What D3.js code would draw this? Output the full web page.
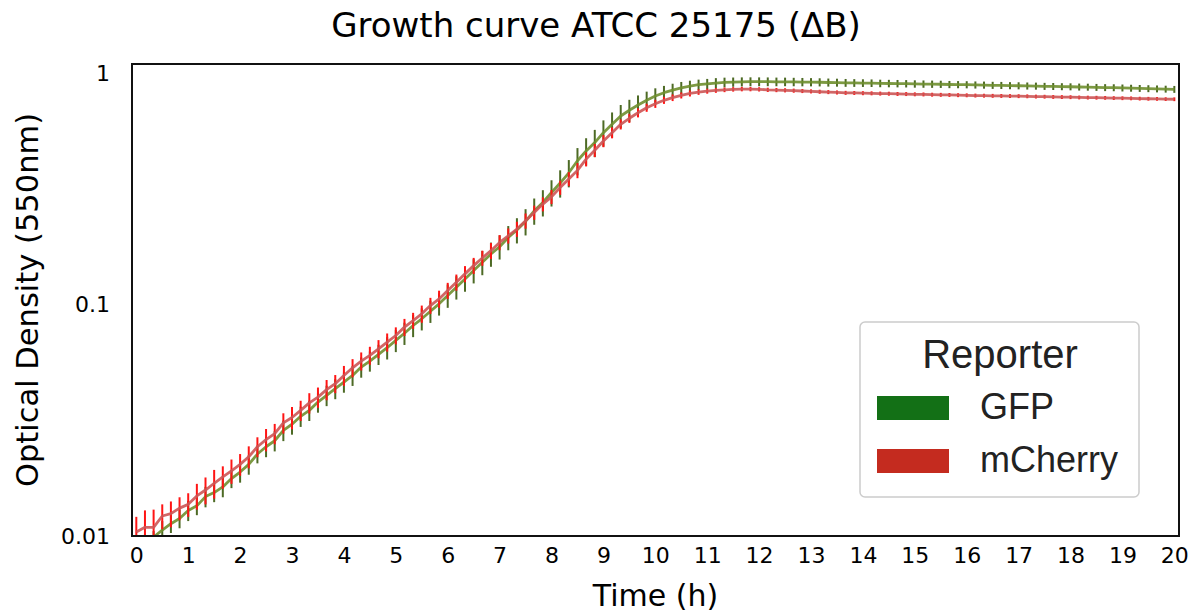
<!DOCTYPE html>
<html>
<head>
<meta charset="utf-8">
<script src="https://cdn.jsdelivr.net/npm/d3@7"></script>
<style>
  body { margin: 0; background: #fff; }
  text { font-family: "DejaVu Sans", sans-serif; fill: #000; }
  .legend text { font-family: "Liberation Sans", Arial, sans-serif; fill: #222; }
</style>
</head>
<body>
<svg class="chart" width="1198" height="615"></svg>
<script>
// sampling every 10 minutes, 0 to 20 h
const minutes = d3.range(0, 1201, 10)

const gfpMean = [
  0.0093, 0.0096, 0.0099, 0.0106, 0.0113, 0.0119, 0.0129, 0.0135, 0.0148, 0.0154,
  0.0163, 0.0177, 0.0189, 0.0204, 0.0226, 0.0243, 0.0258, 0.0286, 0.0304, 0.0329,
  0.0349, 0.0379, 0.0405, 0.0433, 0.0462, 0.0494, 0.0537, 0.0570, 0.0609, 0.0651,
  0.0700, 0.0752, 0.0812, 0.0868, 0.0936, 0.1007, 0.1094, 0.1188, 0.1291, 0.1402,
  0.1522, 0.1654, 0.1778, 0.1950, 0.2099, 0.2286, 0.2542, 0.2761, 0.3048, 0.335,
  0.371, 0.418, 0.461, 0.501, 0.553, 0.601, 0.653, 0.691, 0.728, 0.763,
  0.796, 0.823, 0.845, 0.864, 0.879, 0.891, 0.899, 0.906, 0.912, 0.915,
  0.917, 0.918, 0.918, 0.918, 0.917, 0.917, 0.916, 0.915, 0.914, 0.913,
  0.911, 0.910, 0.908, 0.907, 0.906, 0.905, 0.903, 0.902, 0.901, 0.900,
  0.898, 0.897, 0.896, 0.895, 0.893, 0.892, 0.891, 0.889, 0.888, 0.886,
  0.885, 0.883, 0.882, 0.880, 0.879, 0.877, 0.876, 0.874, 0.873, 0.871,
  0.870, 0.868, 0.866, 0.865, 0.863, 0.861, 0.859, 0.857, 0.855, 0.853,
  0.851
]
const gfpErr = [
  0.0006, 0.0006, 0.0006, 0.0010, 0.0010, 0.0011, 0.0013, 0.0012, 0.0015, 0.0014,
  0.0016, 0.0016, 0.0019, 0.0020, 0.0020, 0.0024, 0.0026, 0.0029, 0.0030, 0.0033,
  0.0035, 0.0038, 0.0041, 0.0043, 0.0046, 0.0049, 0.0054, 0.0057, 0.0061, 0.0072,
  0.0077, 0.0083, 0.0089, 0.0095, 0.0103, 0.0111, 0.0126, 0.0137, 0.0155, 0.0168,
  0.0183, 0.0198, 0.0213, 0.0234, 0.0262, 0.0297, 0.0330, 0.0359, 0.0396, 0.0452,
  0.0501, 0.0564, 0.0622, 0.0676, 0.0719, 0.0751, 0.0751, 0.0760, 0.0728, 0.0687,
  0.0637, 0.0576, 0.0549, 0.0518, 0.0483, 0.0463, 0.0450, 0.0453, 0.0438, 0.0421,
  0.0415, 0.0410, 0.0405, 0.0400, 0.0395, 0.0390, 0.0385, 0.0380, 0.0375, 0.0370,
  0.0365, 0.0360, 0.0355, 0.0350, 0.0346, 0.0342, 0.0338, 0.0335, 0.0332, 0.0330,
  0.0328, 0.0326, 0.0324, 0.0322, 0.0320, 0.0318, 0.0316, 0.0315, 0.0314, 0.0313,
  0.0312, 0.0311, 0.0310, 0.0309, 0.0308, 0.0307, 0.0306, 0.0305, 0.0304, 0.0303,
  0.0302, 0.0301, 0.0300, 0.0299, 0.0298, 0.0297, 0.0296, 0.0295, 0.0294, 0.0293,
  0.0292
]

const mcherryMean = [
  0.0104, 0.0109, 0.0109, 0.0122, 0.0125, 0.0132, 0.0137, 0.0149, 0.0158, 0.0169,
  0.0180, 0.0191, 0.0204, 0.0220, 0.0243, 0.0261, 0.0277, 0.0308, 0.0325, 0.0349,
  0.0376, 0.0398, 0.0429, 0.0455, 0.0494, 0.0533, 0.0570, 0.0603, 0.0644, 0.0688,
  0.0735, 0.0799, 0.0853, 0.0912, 0.0990, 0.1058, 0.1149, 0.1248, 0.1357, 0.1473,
  0.1590, 0.1709, 0.1856, 0.1983, 0.2120, 0.2301, 0.2500, 0.2717, 0.2921, 0.3203,
  0.349, 0.380, 0.425, 0.464, 0.509, 0.553, 0.601, 0.638, 0.674, 0.709,
  0.737, 0.763, 0.783, 0.801, 0.817, 0.828, 0.836, 0.842, 0.847, 0.851,
  0.853, 0.853, 0.851, 0.847, 0.845, 0.843, 0.840, 0.837, 0.834, 0.831,
  0.828, 0.825, 0.822, 0.821, 0.819, 0.818, 0.816, 0.815, 0.813, 0.812,
  0.810, 0.809, 0.807, 0.806, 0.805, 0.803, 0.802, 0.800, 0.799, 0.798,
  0.797, 0.796, 0.795, 0.794, 0.792, 0.791, 0.789, 0.788, 0.787, 0.785,
  0.784, 0.783, 0.782, 0.780, 0.779, 0.778, 0.776, 0.775, 0.774, 0.772,
  0.771
]
const mcherryErr = [
  0.0017, 0.0020, 0.0021, 0.0015, 0.0016, 0.0015, 0.0016, 0.0019, 0.0021, 0.0024,
  0.0020, 0.0023, 0.0022, 0.0024, 0.0024, 0.0029, 0.0028, 0.0031, 0.0036, 0.0035,
  0.0038, 0.0040, 0.0043, 0.0041, 0.0049, 0.0048, 0.0051, 0.0054, 0.0058, 0.0062,
  0.0062, 0.0068, 0.0068, 0.0078, 0.0079, 0.0090, 0.0092, 0.0100, 0.0109, 0.0118,
  0.0119, 0.0137, 0.0139, 0.0149, 0.0159, 0.0173, 0.0175, 0.0190, 0.0204, 0.0224,
  0.0244, 0.0285, 0.0298, 0.0302, 0.0305, 0.0304, 0.0301, 0.0287, 0.0303, 0.0284,
  0.0295, 0.0267, 0.0258, 0.0240, 0.0245, 0.0224, 0.0209, 0.0200, 0.0195, 0.0190,
  0.0186, 0.0183, 0.0180, 0.0178, 0.0176, 0.0174, 0.0172, 0.0170, 0.0168, 0.0167,
  0.0166, 0.0165, 0.0164, 0.0163, 0.0162, 0.0161, 0.0160, 0.0160, 0.0159, 0.0159,
  0.0158, 0.0158, 0.0157, 0.0157, 0.0156, 0.0156, 0.0155, 0.0155, 0.0154, 0.0154,
  0.0153, 0.0153, 0.0152, 0.0152, 0.0151, 0.0151, 0.0150, 0.0150, 0.0149, 0.0149,
  0.0148, 0.0148, 0.0147, 0.0147, 0.0146, 0.0146, 0.0145, 0.0145, 0.0144, 0.0144,
  0.0143
]

const xTicks = d3.range(0, 21)
const yTicks = [0.01, 0.1, 1]
const yTickLabels = ['0.01', '0.1', '1']

const series = [
  { name: 'GFP', mean: gfpMean, err: gfpErr, line: '#6f8f2f', bar: '#4d6a25', swatch: '#137016' },
  { name: 'mCherry', mean: mcherryMean, err: mcherryErr, line: '#cc5555', bar: '#ff1414', swatch: '#c42b1f' }
]

const plotLeft = 132, plotRight = 1179, plotTop = 64, plotBottom = 536

const x = d3.scaleLinear().domain([-0.083, 20.09]).range([plotLeft, plotRight])
const y = d3.scaleLog().domain([0.01, 1.095]).range([plotBottom, plotTop])

const svg = d3.select('svg.chart')

svg.append('defs').append('clipPath').attr('id', 'plot-clip')
  .append('rect')
  .attr('x', plotLeft).attr('y', plotTop)
  .attr('width', plotRight - plotLeft).attr('height', plotBottom - plotTop)

const plot = svg.append('g').attr('clip-path', 'url(#plot-clip)')

series.forEach(s => {
  const pts = minutes.map((m, i) => ({ t: m / 60, v: s.mean[i], e: s.err[i] }))

  plot.append('g')
    .selectAll('line')
    .data(pts)
    .enter()
    .append('line')
    .attr('x1', d => x(d.t))
    .attr('x2', d => x(d.t))
    .attr('y1', d => y(Math.max(d.v - d.e, 0.001)))
    .attr('y2', d => y(d.v + d.e))
    .attr('stroke', s.bar)
    .attr('stroke-width', 2)

  plot.append('path')
    .datum(pts)
    .attr('fill', 'none')
    .attr('stroke', s.line)
    .attr('stroke-width', 2.8)
    .attr('stroke-opacity', 0.9)
    .attr('stroke-linejoin', 'round')
    .attr('d', d3.line().x(d => x(d.t)).y(d => y(d.v)))
})

// frame
svg.append('rect')
  .attr('x', plotLeft).attr('y', plotTop)
  .attr('width', plotRight - plotLeft).attr('height', plotBottom - plotTop)
  .attr('fill', 'none')
  .attr('stroke', '#111')
  .attr('stroke-width', 2)

// axes: labels only, no tick marks
const xAxis = svg.append('g')
  .attr('transform', `translate(0,${plotBottom})`)
  .call(d3.axisBottom(x).tickValues(xTicks).tickSize(0).tickPadding(11).tickFormat(d3.format('d')))
xAxis.select('.domain').remove()
xAxis.selectAll('text').attr('font-size', 22).attr('font-family', 'DejaVu Sans').attr('fill', '#000')

const yAxis = svg.append('g')
  .attr('transform', `translate(${plotLeft},0)`)
  .call(d3.axisLeft(y).tickValues(yTicks).tickSize(0).tickPadding(22).tickFormat((d, i) => yTickLabels[i]))
yAxis.select('.domain').remove()
yAxis.selectAll('text').attr('font-size', 22).attr('font-family', 'DejaVu Sans').attr('fill', '#000')

svg.append('text')
  .attr('x', 596).attr('y', 37)
  .attr('text-anchor', 'middle')
  .attr('font-size', 34)
  .text('Growth curve ATCC 25175 (ΔB)')

svg.append('text')
  .attr('x', (plotLeft + plotRight) / 2).attr('y', 606)
  .attr('text-anchor', 'middle')
  .attr('font-size', 30)
  .text('Time (h)')

svg.append('text')
  .attr('transform', `translate(38,${(plotTop + plotBottom) / 2}) rotate(-90)`)
  .attr('text-anchor', 'middle')
  .attr('font-size', 30.5)
  .text('Optical Density (550nm)')

// legend
const legend = svg.append('g').attr('class', 'legend')
legend.append('rect')
  .attr('x', 860).attr('y', 322)
  .attr('width', 279).attr('height', 175)
  .attr('rx', 5)
  .attr('fill', '#fff')
  .attr('fill-opacity', 0.85)
  .attr('stroke', '#cccccc')
  .attr('stroke-width', 1.5)

legend.append('text')
  .attr('x', 1000).attr('y', 368)
  .attr('text-anchor', 'middle')
  .attr('font-size', 40)
  .text('Reporter')

series.forEach((s, i) => {
  legend.append('rect')
    .attr('x', 877).attr('y', 396 + i * 53)
    .attr('width', 72).attr('height', 24)
    .attr('fill', s.swatch)
  legend.append('text')
    .attr('x', 980).attr('y', 419 + i * 53)
    .attr('font-size', 36)
    .text(s.name)
})
</script>
</body>
</html>
